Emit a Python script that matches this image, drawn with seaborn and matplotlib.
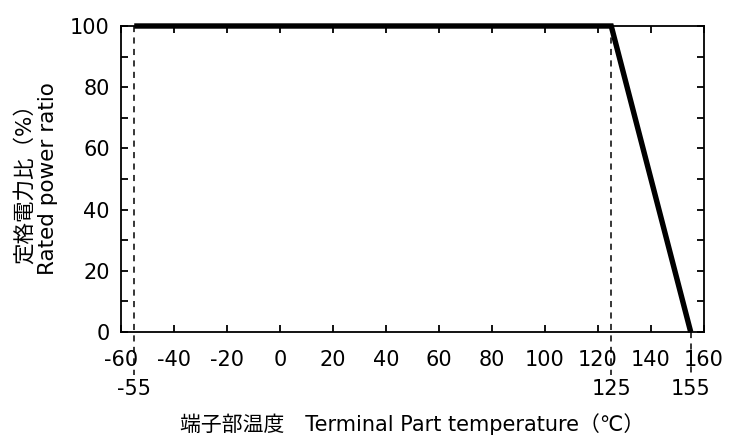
import matplotlib
matplotlib.use("Agg")
import matplotlib.pyplot as plt
import seaborn as sns
import numpy as np

# data
temps = [-55, 125, 155]
ratio = [100, 100, 0]
x_ticks = [-60, -40, -20, 0, 20, 40, 60, 80, 100, 120, 140, 160]
y_ticks = [0, 20, 40, 60, 80, 100]
y_minor = [10, 30, 50, 70, 90]
mark_labels = ["-55", "125", "155"]

sns.set_theme(style="white")
plt.rcParams['font.family'] = ['DejaVu Sans', 'Noto Sans CJK JP']

fig = plt.figure(figsize=(7.39, 4.37), dpi=100)
ax = fig.add_axes([0.1637, 0.2403, 0.9526 - 0.1637, 0.9405 - 0.2403])

sns.lineplot(x=temps, y=ratio, sort=False, color='black', linewidth=3.9,
             ax=ax, clip_on=False, solid_capstyle='butt', solid_joinstyle='miter')

# dashed drop lines extending below axis
for t, r, lab in zip(temps, ratio, mark_labels):
    ax.plot([t, t], [r, -14], color='black', lw=1.1, ls=(0, (4, 3.5)),
            clip_on=False, zorder=1)
    ax.text(t, -15.5, lab, ha='center', va='top', fontsize=15, color='black',
            transform=ax.transData, clip_on=False)

ax.set_xlim(-60, 160)
ax.set_ylim(0, 100)
ax.set_xticks(x_ticks)
ax.set_xticklabels([str(v) for v in x_ticks])
ax.set_yticks(y_ticks)
ax.set_yticks(y_minor, minor=True)

for s in ax.spines.values():
    s.set_color('black')
    s.set_linewidth(1.3)

ax.tick_params(axis='both', which='both', direction='in', length=5, width=1.3,
               colors='black', labelsize=15, labelcolor='black')
ax.tick_params(axis='x', which='both', top=True, bottom=True, pad=13)
ax.tick_params(axis='y', which='both', left=True, right=True, pad=8)
ax.tick_params(axis='y', which='minor', length=5)

ax.set_xlabel("端子部温度　Terminal Part temperature（℃）",
              family=['DejaVu Sans', 'Noto Sans CJK JP'], fontsize=15, labelpad=31,
              color='black')
ax.set_ylabel("定格電力比（%）\nRated power ratio",
              family=['DejaVu Sans', 'Noto Sans CJK JP'], fontsize=15.5, labelpad=9,
              color='black', linespacing=1.2)

fig.savefig("out.png", dpi=100)
